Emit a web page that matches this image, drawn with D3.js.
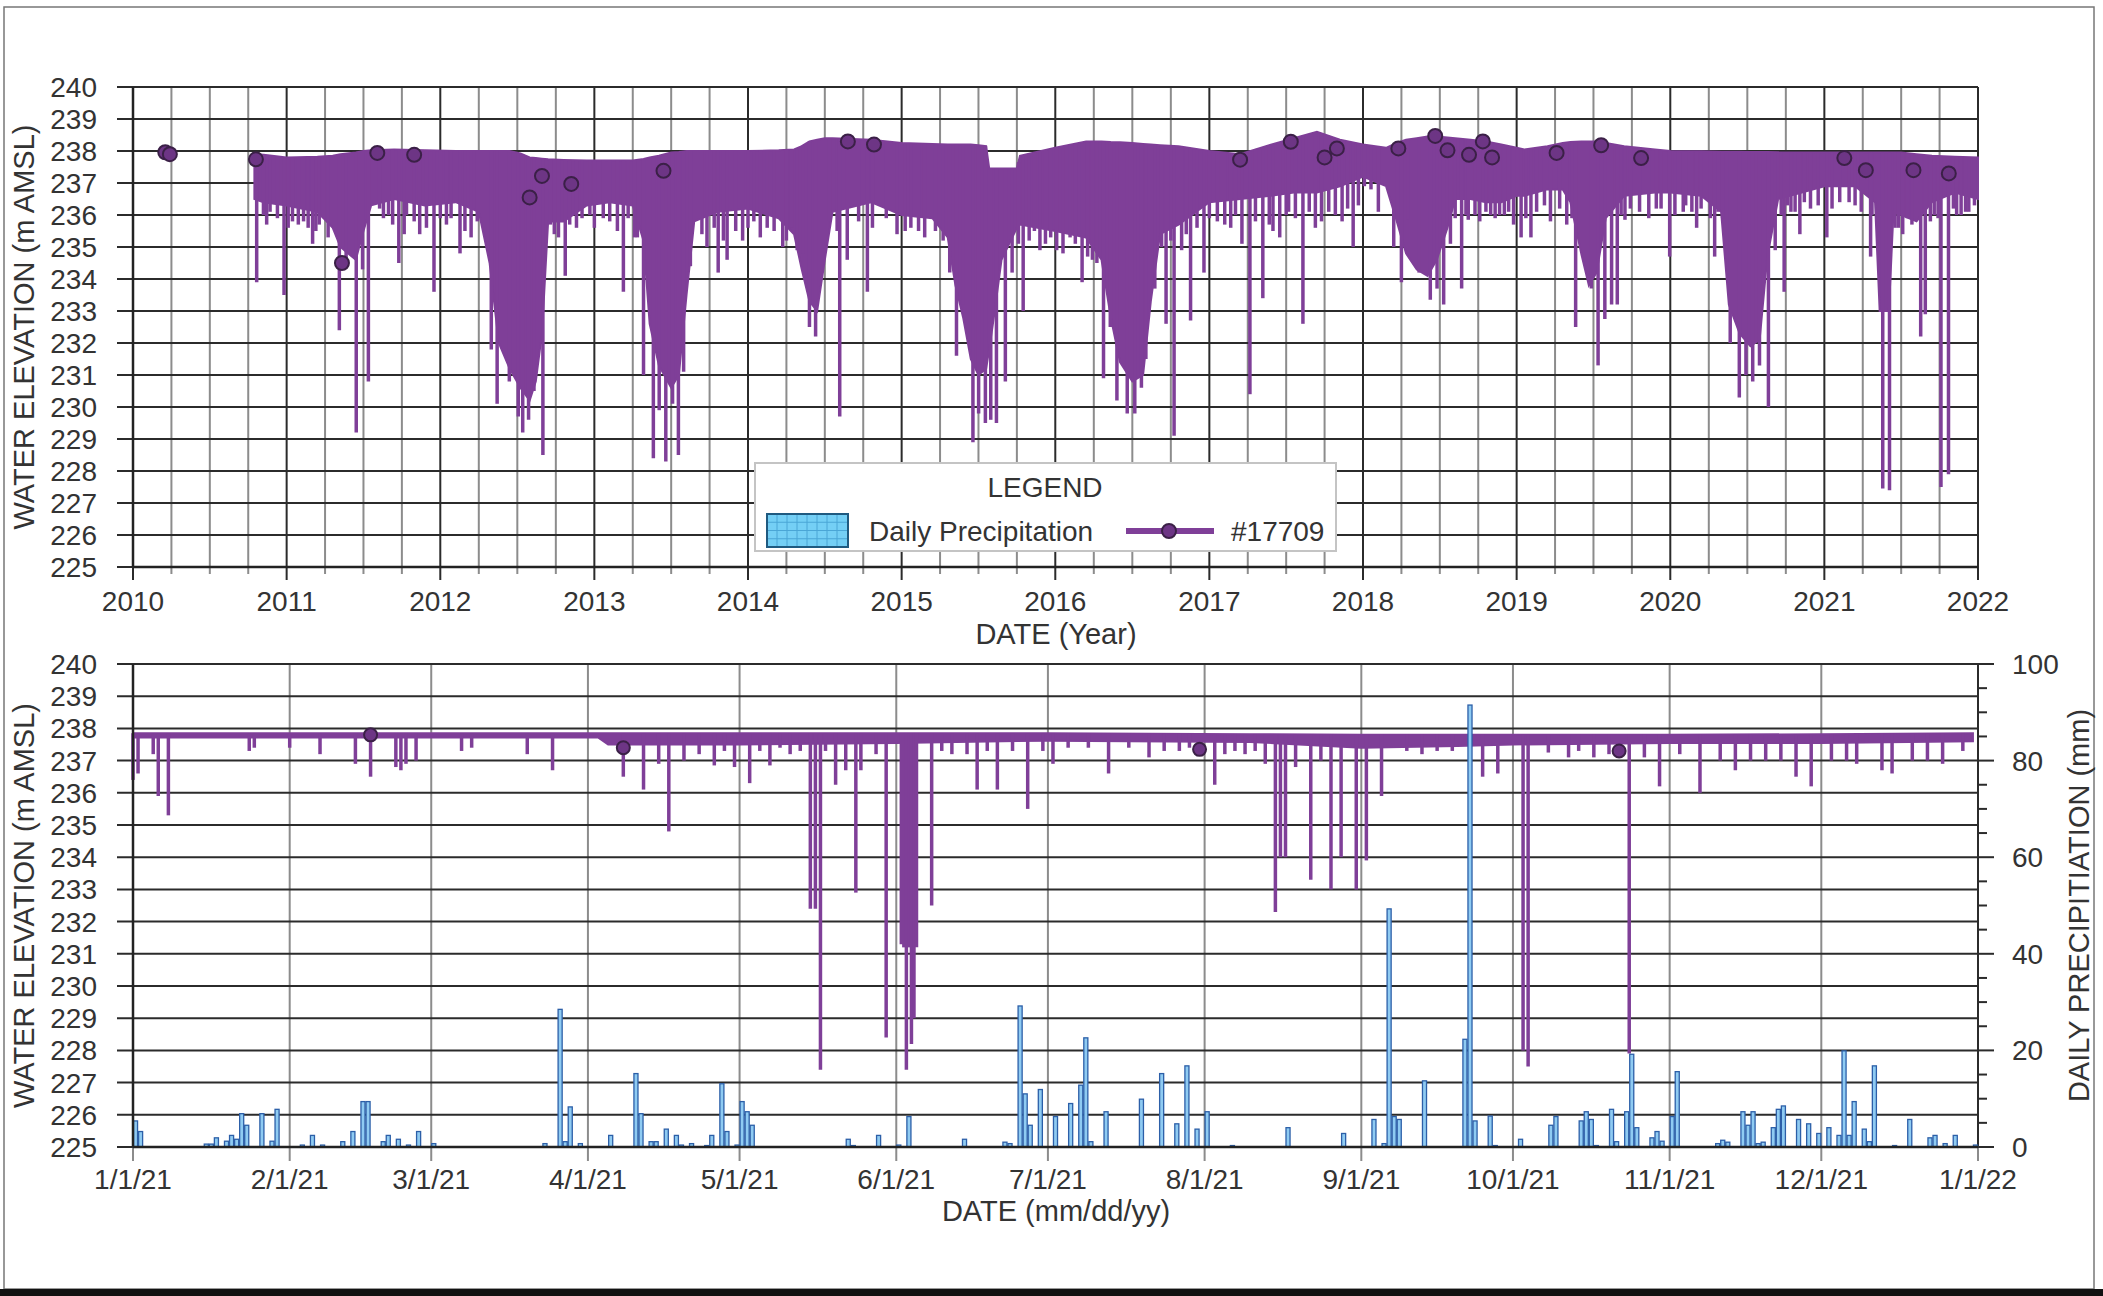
<!DOCTYPE html>
<html>
<head>
<meta charset="utf-8">
<script src="https://cdn.jsdelivr.net/npm/d3@7"></script>
<style>
  body { margin: 0; background: #fff; }
  svg { display: block; font-family: "Liberation Sans", Arial, sans-serif; }
  .lbl { fill: #333; font-size: 28px; }
  .ttl { fill: #333; font-size: 29px; }
</style>
</head>
<body>
<svg id="chart" width="2103" height="1296"></svg>
<script>
// ---------- long-term record (decimal years) ----------
const bandYears  = [2010.79,2010.85,2011.0,2011.2,2011.3,2011.35,2011.45,2011.5,2011.55,2011.7,2011.9,2012.1,2012.25,2012.32,2012.38,2012.45,2012.52,2012.58,2012.62,2012.66,2012.7,2012.8,2012.95,2013.1,2013.25,2013.32,2013.36,2013.42,2013.5,2013.55,2013.6,2013.65,2013.8,2014.0,2014.2,2014.3,2014.35,2014.4,2014.45,2014.5,2014.55,2014.8,2015.0,2015.2,2015.3,2015.35,2015.4,2015.45,2015.5,2015.55,2015.57,2015.6,2015.65,2015.75,2015.77,2016.0,2016.2,2016.3,2016.36,2016.42,2016.5,2016.57,2016.62,2016.68,2016.8,2017.0,2017.2,2017.4,2017.55,2017.7,2017.85,2018.0,2018.15,2018.22,2018.28,2018.35,2018.42,2018.48,2018.55,2018.6,2018.7,2018.8,2018.9,2019.0,2019.05,2019.2,2019.3,2019.35,2019.42,2019.47,2019.52,2019.58,2019.7,2019.9,2020.0,2020.2,2020.33,2020.38,2020.45,2020.52,2020.58,2020.63,2020.7,2021.0,2021.2,2021.33,2021.36,2021.42,2021.45,2021.5,2021.6,2021.7,2021.85,2022.0];
const bandTop    = [237.9,237.88,237.8,237.82,237.85,237.9,237.95,238.0,238.02,238.05,238.02,238.0,238.0,238.0,238.0,238.0,237.92,237.8,237.78,237.76,237.74,237.72,237.7,237.7,237.7,237.75,237.8,237.85,237.95,237.97,238.0,238.0,238.0,238.0,238.02,238.05,238.15,238.3,238.35,238.4,238.4,238.35,238.25,238.22,238.2,238.2,238.2,238.2,238.18,238.15,237.45,237.45,237.45,237.45,237.85,238.1,238.3,238.3,238.28,238.27,238.25,238.22,238.2,238.18,238.15,238.0,237.9,238.2,238.4,238.6,238.35,238.2,238.1,238.25,238.35,238.4,238.45,238.45,238.42,238.4,238.35,238.3,238.2,238.1,238.05,238.15,238.25,238.28,238.3,238.3,238.3,238.25,238.15,238.05,238.0,237.99,237.98,237.98,237.98,237.97,237.97,237.97,237.96,237.95,237.95,237.95,237.95,237.95,237.95,237.95,237.9,237.85,237.82,237.8];
const bandBottom = [236.5,236.4,236.3,236.1,235.6,235.0,234.6,235.5,236.3,236.5,236.3,236.4,236.1,234.5,232.0,231.2,230.6,230.2,230.8,232.3,235.8,235.8,236.3,236.4,236.3,235.2,232.6,231.3,230.6,231.0,233.5,235.8,236.1,236.2,235.9,235.4,234.3,233.3,233.0,234.6,236.1,236.4,236.0,235.9,235.3,233.8,232.8,231.5,231.0,231.2,231.8,232.8,234.6,235.6,235.7,235.5,235.3,234.6,232.8,231.4,230.8,231.0,233.3,235.4,235.7,236.4,236.5,236.6,236.7,236.7,236.9,237.2,236.9,235.8,234.8,234.3,234.1,234.6,235.6,236.5,236.5,236.4,236.4,236.6,236.6,236.8,236.8,236.4,234.8,233.8,234.2,235.9,236.6,236.7,236.7,236.6,236.1,233.2,232.3,231.9,232.1,234.7,236.5,236.9,236.9,236.4,233.0,233.0,236.1,236.0,235.8,236.4,236.7,236.5];

const spikeYears = [2010.805,2010.849,2010.892,2010.983,2011.038,2011.076,2011.14,2011.169,2011.212,2011.27,2011.343,2011.387,2011.453,2011.494,2011.532,2011.605,2011.663,2011.73,2011.765,2011.866,2011.959,2012.07,2012.128,2012.2,2012.331,2012.369,2012.448,2012.506,2012.535,2012.573,2012.608,2012.666,2012.715,2012.767,2012.811,2012.884,2012.971,2013.058,2013.189,2013.262,2013.32,2013.384,2013.422,2013.465,2013.509,2013.547,2013.581,2013.625,2013.733,2013.806,2013.864,2013.965,2014.038,2014.125,2014.226,2014.284,2014.357,2014.4,2014.44,2014.53,2014.597,2014.646,2014.777,2015.023,2015.11,2015.27,2015.313,2015.357,2015.4,2015.464,2015.501,2015.545,2015.58,2015.617,2015.675,2015.719,2015.791,2015.864,2015.936,2016.009,2016.096,2016.174,2016.241,2016.313,2016.357,2016.4,2016.467,2016.516,2016.559,2016.588,2016.646,2016.719,2016.771,2016.82,2016.878,2016.965,2017.052,2017.139,2017.212,2017.264,2017.348,2017.414,2017.458,2017.516,2017.609,2017.69,2017.777,2017.864,2017.936,2018.009,2018.052,2018.2,2018.25,2018.292,2018.365,2018.438,2018.482,2018.525,2018.569,2018.642,2018.685,2018.729,2018.831,2018.889,2018.948,2019.029,2019.093,2019.181,2019.326,2019.384,2019.486,2019.53,2019.574,2019.618,2019.655,2019.705,2019.909,2019.996,2020.084,2020.171,2020.288,2020.34,2020.389,2020.448,2020.491,2020.535,2020.579,2020.637,2020.681,2020.739,2020.783,2020.841,2021.016,2021.161,2021.301,2021.38,2021.424,2021.482,2021.54,2021.627,2021.657,2021.715,2021.759,2021.808,2021.861,2021.919,2021.977];
const spikeLows  = [233.9,236.0,236.1,233.5,235.8,235.7,235.6,235.1,235.7,235.3,232.4,234.4,229.2,234.3,230.8,236.2,236.0,234.5,235.4,235.4,233.6,235.9,234.8,235.3,231.8,230.1,230.8,229.7,229.2,229.6,230.5,228.5,235.7,235.3,234.1,235.6,236.0,235.9,233.6,235.3,231.0,228.4,229.9,228.3,230.1,228.5,231.1,234.4,235.0,234.2,234.6,235.2,235.8,235.6,235.0,235.6,234.8,232.5,232.2,235.8,229.7,234.6,233.6,235.5,235.5,235.2,234.2,231.6,233.2,228.9,229.8,229.5,229.6,229.5,230.8,234.2,233.0,235.5,235.1,234.9,235.3,233.9,234.6,230.9,232.5,230.2,229.8,229.8,230.6,231.5,233.7,232.6,229.1,234.9,232.7,234.2,235.8,235.6,235.1,230.4,233.4,235.5,235.3,236.1,232.6,235.6,236.1,235.8,235.0,236.9,236.8,235.0,233.9,235.85,234.2,233.35,233.7,233.2,235.1,233.7,235.85,236.0,236.0,236.0,236.1,235.3,235.3,236.3,235.7,232.5,233.7,231.3,232.75,233.2,233.2,235.85,236.2,234.7,236.1,235.6,234.7,235.9,232.0,230.3,231.0,230.8,231.3,230.0,234.9,233.6,236.1,235.4,235.3,236.4,234.7,227.45,227.4,235.6,235.9,232.2,232.9,236.0,227.5,227.9,236.0,236.1,236.3];

// shorter drawdowns that make the ragged lower edge of the band
const teethYears = [2010.87,2010.94,2011.01,2011.11,2011.19,2011.24,2011.63,2011.69,2011.78,2011.83,2011.91,2012.0,2012.04,2012.16,2012.24,2012.74,2012.84,2012.92,2013.0,2013.1,2013.15,2013.22,2013.28,2013.7,2013.78,2013.84,2013.92,2014.0,2014.08,2014.17,2014.25,2014.32,2014.58,2014.72,2014.81,2014.9,2014.97,2015.06,2015.15,2015.22,2015.76,2015.83,2015.9,2015.97,2016.05,2016.13,2016.21,2016.27,2016.69,2016.75,2016.85,2016.92,2017.0,2017.1,2017.17,2017.3,2017.39,2017.5,2017.56,2017.65,2017.73,2017.82,2017.9,2017.97,2018.1,2018.6,2018.67,2018.76,2018.8,2018.86,2018.92,2018.98,2019.06,2019.13,2019.22,2019.28,2019.36,2019.68,2019.74,2019.8,2019.86,2019.94,2020.03,2020.1,2020.14,2020.2,2020.26,2020.31,2020.72,2020.76,2020.81,2020.87,2020.91,2020.96,2021.05,2021.1,2021.2,2021.24,2021.31,2021.46,2021.51,2021.57,2021.69,2021.74,2021.84,2021.89,2021.94];
const teethLows  = [235.7,235.9,235.6,235.8,235.5,235.9,235.9,235.7,236.0,235.8,235.6,235.9,235.7,235.5,235.8,235.4,235.7,235.9,235.6,235.8,235.5,235.9,235.3,235.4,235.6,235.2,235.5,235.6,235.3,235.5,235.2,234.9,235.5,235.8,235.6,235.9,235.4,235.6,235.3,235.5,235.1,235.2,234.9,235.3,234.8,235.1,234.7,234.5,235.0,235.2,235.4,235.6,235.9,235.7,236.0,235.8,235.7,236.0,235.9,236.1,235.8,236.0,236.2,236.3,236.1,235.9,236.0,235.8,236.1,235.9,236.0,235.7,235.9,236.1,235.8,236.2,235.9,236.0,236.2,236.1,235.9,236.2,236.0,236.3,236.1,236.2,235.9,236.1,236.0,236.3,236.1,236.4,236.2,236.3,236.2,236.4,236.3,236.1,236.0,235.6,235.4,235.7,235.8,235.9,236.2,236.0,236.1];

const manualYears  = [2010.21,2010.24,2010.80,2011.36,2011.59,2011.83,2012.58,2012.66,2012.85,2013.45,2014.65,2014.82,2017.2,2017.53,2017.75,2017.83,2018.23,2018.47,2018.55,2018.69,2018.78,2018.84,2019.26,2019.55,2019.81,2021.13,2021.27,2021.58,2021.81];
const manualLevels = [237.96,237.9,237.74,234.5,237.94,237.88,236.55,237.22,236.97,237.38,238.3,238.2,237.73,238.29,237.8,238.08,238.08,238.47,238.02,237.88,238.3,237.8,237.94,238.18,237.78,237.78,237.4,237.4,237.3];

const yearTicks = d3.range(2010, 2023);

// ---------- 2021 record ----------
const dayBandDates  = ["2021-01-01","2021-04-03","2021-04-05","2021-05-01","2021-06-01","2021-07-01","2021-08-10","2021-09-01","2021-09-20","2021-10-01","2021-11-01","2021-12-01","2021-12-31"];
const dayBandTop    = [237.85,237.85,237.85,237.85,237.85,237.85,237.82,237.8,237.8,237.8,237.8,237.82,237.85];
const dayBandBottom = [237.72,237.72,237.5,237.5,237.55,237.62,237.58,237.4,237.45,237.5,237.55,237.55,237.6];

const daySpikeDates = ["2021-01-01","2021-01-02","2021-01-05","2021-01-06","2021-01-08","2021-01-24","2021-01-25","2021-02-01","2021-02-07","2021-02-14","2021-02-17","2021-02-22","2021-02-23","2021-02-24","2021-02-26","2021-03-07","2021-03-09","2021-03-20","2021-03-25","2021-04-08","2021-04-12","2021-04-15","2021-04-17","2021-04-20","2021-04-23","2021-04-26","2021-04-28","2021-04-30","2021-05-03","2021-05-05","2021-05-07","2021-05-09","2021-05-11","2021-05-13","2021-05-15","2021-05-16","2021-05-17","2021-05-18","2021-05-20","2021-05-22","2021-05-24","2021-05-25","2021-05-28","2021-05-30","2021-06-02","2021-06-02T12","2021-06-03","2021-06-03T12","2021-06-04","2021-06-04T12","2021-06-05","2021-06-08","2021-06-10","2021-06-12","2021-06-15","2021-06-17","2021-06-19","2021-06-21","2021-06-24","2021-06-27","2021-06-30","2021-07-02","2021-07-05","2021-07-09","2021-07-13","2021-07-17","2021-07-21","2021-07-24","2021-07-27","2021-07-29","2021-08-03","2021-08-05","2021-08-07","2021-08-09","2021-08-11","2021-08-13","2021-08-15","2021-08-16","2021-08-17","2021-08-19","2021-08-22","2021-08-24","2021-08-26","2021-08-28","2021-08-31","2021-09-02","2021-09-05","2021-09-10","2021-09-13","2021-09-16","2021-09-19","2021-09-25","2021-09-28","2021-10-03","2021-10-04","2021-10-08","2021-10-12","2021-10-14","2021-10-17","2021-10-20","2021-10-24","2021-10-27","2021-10-30","2021-11-03","2021-11-07","2021-11-11","2021-11-14","2021-11-17","2021-11-20","2021-11-23","2021-11-26","2021-11-29","2021-12-03","2021-12-06","2021-12-08","2021-12-13","2021-12-15","2021-12-19","2021-12-22","2021-12-25","2021-12-29"];
const daySpikeLows  = [236.4,236.6,237.2,235.9,235.3,237.3,237.4,237.4,237.2,236.9,236.5,236.8,236.7,236.9,237.0,237.3,237.4,237.2,236.7,236.5,236.1,236.9,234.8,237.0,237.2,236.85,237.3,236.8,236.3,237.3,236.85,237.4,237.2,237.3,232.4,232.4,227.4,237.3,236.25,236.7,232.9,236.7,237.2,228.4,231.3,231.2,227.4,231.2,228.2,229.0,231.2,232.5,237.3,237.2,237.2,236.1,237.3,236.1,237.3,235.5,237.3,236.9,237.4,237.4,236.6,237.4,237.1,237.3,237.3,237.4,236.25,237.2,237.3,237.2,237.3,236.9,232.3,234.0,234.0,236.8,233.3,237.0,233.0,234.0,233.0,233.9,235.9,237.3,237.2,237.3,237.3,236.5,236.6,228.0,227.5,237.25,237.1,237.3,237.1,237.2,227.9,237.1,236.2,237.2,236.0,237.0,236.7,237.0,237.0,237.0,236.5,236.2,237.0,237.0,236.9,236.7,236.6,237.0,237.0,236.9,237.3];

const dayManualDates  = ["2021-02-17","2021-04-08","2021-07-31","2021-10-22"];
const dayManualLevels = [237.8,237.4,237.35,237.3];

const precipDates = ["01-01","01-02","01-15","01-16","01-17","01-19","01-20","01-21","01-22","01-23","01-26","01-28","01-29","02-03","02-05","02-07","02-11","02-13","02-15","02-16","02-19","02-20","02-22","02-24","02-26","03-01","03-23","03-26","03-27","03-28","03-30","04-05","04-10","04-11","04-13","04-14","04-16","04-18","04-19","04-21","04-24","04-25","04-27","04-28","04-30","05-01","05-02","05-03","05-22","05-23","05-28","06-01","06-03","06-14","06-22","06-23","06-25","06-26","06-27","06-29","07-02","07-05","07-07","07-08","07-09","07-12","07-19","07-23","07-26","07-28","07-30","08-01","08-06","08-17","08-28","09-03","09-05","09-06","09-07","09-08","09-13","09-21","09-22","09-23","09-26","09-27","10-02","10-08","10-09","10-14","10-15","10-16","10-17","10-20","10-21","10-23","10-24","10-25","10-28","10-29","10-30","11-01","11-02","11-10","11-11","11-12","11-15","11-16","11-17","11-18","11-19","11-21","11-22","11-23","11-26","11-28","11-30","12-02","12-04","12-05","12-06","12-07","12-09","12-10","12-11","12-15","12-18","12-22","12-23","12-25","12-27","12-31"];
const precipMm    = [5.4,3.2,0.6,0.6,1.9,1.2,2.4,1.6,6.9,4.5,6.9,1.2,7.8,0.4,2.4,0.4,1.1,3.2,9.4,9.4,1.1,2.4,1.6,0.4,3.2,0.7,0.7,28.5,1.1,8.3,0.7,2.4,15.2,6.9,1.1,1.1,3.7,2.4,0.4,0.7,0.3,2.4,13.1,3.2,0.4,9.4,7.3,4.5,1.6,0.3,2.4,0.4,6.3,1.6,1.0,0.7,29.2,11.0,4.5,11.9,6.3,9.0,12.8,22.6,1.1,7.3,9.9,15.2,4.8,16.8,3.7,7.3,0.3,4.0,2.8,5.7,0.7,49.3,6.3,5.7,13.7,22.3,91.5,5.4,6.4,0.3,1.6,4.5,6.3,5.4,7.3,5.7,0.3,7.8,1.1,7.3,19.2,4.0,1.9,3.2,1.2,6.3,15.6,0.7,1.4,1.0,7.3,4.5,7.3,0.7,1.0,4.0,7.8,8.5,5.7,4.8,2.8,4.0,2.4,19.9,2.4,9.4,3.7,1.1,16.8,0.3,5.7,1.9,2.4,0.7,2.4,0.4];

const elevTicks = d3.range(225, 241);
const precipTicks = d3.range(0, 101, 20);

// ---------- setup ----------
const PURPLE = "#7f3f98";
const svg = d3.select("#chart");
const L = 133, R = 1978;
const top1 = { t: 87, b: 567 }, top2 = { t: 664, b: 1147 };
const yr = v => { const y = Math.floor(v), s = new Date(y, 0, 1), e = new Date(y + 1, 0, 1); return new Date(+s + (v - y) * (e - s)); };
const parse = s => new Date(s.length > 10 ? s + ":00" : s + "T00:00");

// frame
svg.append("rect").attr("x", 4).attr("y", 7).attr("width", 2090).attr("height", 1282)
  .attr("fill", "none").attr("stroke", "#777").attr("stroke-width", 1.5);
svg.append("rect").attr("x", 0).attr("y", 1289).attr("width", 2103).attr("height", 7).attr("fill", "#111");

function elevAxis(g, y) {
  g.selectAll(".hg").data(elevTicks).join("line")
    .attr("x1", L - 16).attr("x2", R).attr("y1", d => y(d)).attr("y2", d => y(d))
    .attr("stroke", "#2b2b2b").attr("stroke-width", 2);
  g.selectAll(".yl").data(elevTicks).join("text").attr("class", "lbl")
    .attr("x", 97).attr("y", d => y(d) + 10).attr("text-anchor", "end").text(d => d);
}

// draw drawdown spikes hanging from the upper envelope
function spikes(g, x, y, topAt, dates, lows) {
  g.append("g").selectAll("line").data(dates).join("line")
    .attr("x1", d => x(d)).attr("x2", d => x(d))
    .attr("y1", d => y(topAt(+d))).attr("y2", (d, i) => y(lows[i]))
    .attr("stroke", PURPLE).attr("stroke-width", 3.5);
}

// ---------- top chart ----------
const x1 = d3.scaleTime().domain([yr(2010), yr(2022)]).range([L, R]);
const y1 = d3.scaleLinear().domain([225, 240]).range([top1.b, top1.t]);
const g1 = svg.append("g");

const quarters = d3.range(2010, 2022.01, 0.25).filter(v => v % 1 !== 0);
g1.selectAll(".qg").data(quarters).join("line")
  .attr("x1", d => x1(yr(d))).attr("x2", d => x1(yr(d)))
  .attr("y1", top1.t).attr("y2", top1.b + 7)
  .attr("stroke", "#8c8c8c").attr("stroke-width", 2);
g1.selectAll(".yg").data(yearTicks).join("line")
  .attr("x1", d => x1(yr(d))).attr("x2", d => x1(yr(d)))
  .attr("y1", top1.t).attr("y2", top1.b + 13)
  .attr("stroke", "#2b2b2b").attr("stroke-width", 2);
elevAxis(g1, y1);
g1.selectAll(".xl").data(yearTicks).join("text").attr("class", "lbl")
  .attr("x", d => x1(yr(d))).attr("y", 611).attr("text-anchor", "middle").text(d => d);
g1.append("text").attr("class", "ttl").attr("x", 1056).attr("y", 644).attr("text-anchor", "middle").text("DATE (Year)");

const band1 = bandYears.map((v, i) => ({ d: yr(v), t: bandTop[i], b: bandBottom[i] }));
const area = (x, y) => d3.area().x(d => x(d.d)).y0(d => y(d.b)).y1(d => y(d.t));
g1.append("path").datum(band1).attr("d", area(x1, y1))
  .attr("fill", PURPLE).attr("stroke", PURPLE).attr("stroke-width", 2);
const topAt1 = d3.scaleLinear().domain(band1.map(d => +d.d)).range(bandTop).clamp(true);
spikes(g1, x1, y1, topAt1, teethYears.map(yr), teethLows);
spikes(g1, x1, y1, topAt1, spikeYears.map(yr), spikeLows);
g1.selectAll(".mk").data(manualYears).join("circle")
  .attr("cx", d => x1(yr(d))).attr("cy", (d, i) => y1(manualLevels[i])).attr("r", 7)
  .attr("fill", "#6d3585").attr("stroke", "#3b2047").attr("stroke-width", 2);

// legend
const lg = svg.append("g");
lg.append("rect").attr("x", 755).attr("y", 463).attr("width", 581).attr("height", 88)
  .attr("fill", "#fff").attr("stroke", "#c4c4c4").attr("stroke-width", 2);
lg.append("text").attr("class", "lbl").attr("x", 1045).attr("y", 497).attr("text-anchor", "middle").text("LEGEND");
lg.append("rect").attr("x", 767).attr("y", 514).attr("width", 81).attr("height", 33).attr("fill", "#74cff5");
lg.selectAll(".pv").data(d3.range(1, 8)).join("line")
  .attr("x1", d => 767 + d * 10).attr("x2", d => 767 + d * 10).attr("y1", 514).attr("y2", 547)
  .attr("stroke", "#4aa6d6").attr("stroke-width", 1);
lg.selectAll(".ph").data(d3.range(1, 4)).join("line")
  .attr("x1", 767).attr("x2", 848).attr("y1", d => 514 + d * 8.25).attr("y2", d => 514 + d * 8.25)
  .attr("stroke", "#4aa6d6").attr("stroke-width", 1);
lg.append("rect").attr("x", 767).attr("y", 514).attr("width", 81).attr("height", 33)
  .attr("fill", "none").attr("stroke", "#1f5a80").attr("stroke-width", 2);
lg.append("text").attr("class", "lbl").attr("x", 869).attr("y", 541).text("Daily Precipitation");
lg.append("line").attr("x1", 1126).attr("x2", 1214).attr("y1", 531).attr("y2", 531)
  .attr("stroke", PURPLE).attr("stroke-width", 6);
lg.append("circle").attr("cx", 1169).attr("cy", 531).attr("r", 7)
  .attr("fill", "#6d3585").attr("stroke", "#3b2047").attr("stroke-width", 2);
lg.append("text").attr("class", "lbl").attr("x", 1231).attr("y", 541).text("#17709");

// ---------- bottom chart ----------
const x2 = d3.scaleTime().domain([new Date(2021, 0, 1), new Date(2022, 0, 1)]).range([L, R]);
const y2 = d3.scaleLinear().domain([225, 240]).range([top2.b, top2.t]);
const yp = d3.scaleLinear().domain([0, 100]).range([top2.b, top2.t]);
const g2 = svg.append("g");
const months = x2.ticks(d3.timeMonth.every(1));
g2.selectAll(".mg").data(months).join("line")
  .attr("x1", d => x2(d)).attr("x2", d => x2(d)).attr("y1", top2.t).attr("y2", top2.b + 14)
  .attr("stroke", "#8c8c8c").attr("stroke-width", 2);
elevAxis(g2, y2);
g2.selectAll(".xl").data(months).join("text").attr("class", "lbl")
  .attr("x", d => x2(d)).attr("y", 1189).attr("text-anchor", "middle").text(d3.timeFormat("%-m/%-d/%y"));
g2.append("text").attr("class", "ttl").attr("x", 1056).attr("y", 1221).attr("text-anchor", "middle").text("DATE (mm/dd/yy)");

// right axis
g2.append("line").attr("x1", R).attr("x2", R).attr("y1", top2.t).attr("y2", top2.b).attr("stroke", "#2b2b2b").attr("stroke-width", 2);
g2.selectAll(".rm").data(d3.range(0, 101, 5)).join("line")
  .attr("x1", R).attr("x2", d => R + (d % 20 === 0 ? 16 : 9)).attr("y1", d => yp(d)).attr("y2", d => yp(d))
  .attr("stroke", "#2b2b2b").attr("stroke-width", 2);
g2.selectAll(".rl").data(precipTicks).join("text").attr("class", "lbl")
  .attr("x", 2012).attr("y", d => yp(d) + 10).text(d => d);

const band2 = dayBandDates.map((s, i) => ({ d: parse(s), t: dayBandTop[i], b: dayBandBottom[i] }));
g2.append("path").datum(band2).attr("d", area(x2, y2))
  .attr("fill", PURPLE).attr("stroke", PURPLE).attr("stroke-width", 2);
const topAt2 = d3.scaleLinear().domain(band2.map(d => +d.d)).range(dayBandTop).clamp(true);
spikes(g2, x2, y2, topAt2, daySpikeDates.map(parse), daySpikeLows);
g2.selectAll(".mk").data(dayManualDates).join("circle")
  .attr("cx", d => x2(parse(d))).attr("cy", (d, i) => y2(dayManualLevels[i])).attr("r", 6.5)
  .attr("fill", "#6d3585").attr("stroke", "#3b2047").attr("stroke-width", 2);

g2.selectAll(".bar").data(precipDates).join("rect")
  .attr("x", d => x2(parse("2021-" + d)) + 0.5)
  .attr("width", d => x2(d3.timeDay.offset(parse("2021-" + d), 1)) - x2(parse("2021-" + d)) - 1)
  .attr("y", (d, i) => yp(precipMm[i])).attr("height", (d, i) => yp(0) - yp(precipMm[i]))
  .attr("fill", "#8fcbf2").attr("stroke", "#2c5fa8").attr("stroke-width", 1.3);

// axis lines on top
[[g1, top1], [g2, top2]].forEach(([g, p]) => {
  g.append("line").attr("x1", L).attr("x2", L).attr("y1", p.t).attr("y2", p.b).attr("stroke", "#222").attr("stroke-width", 2.5);
  g.append("line").attr("x1", L).attr("x2", R).attr("y1", p.b).attr("y2", p.b).attr("stroke", "#222").attr("stroke-width", 2.5);
});

// axis titles
svg.append("text").attr("class", "ttl").attr("transform", `translate(34,${(top1.t + top1.b) / 2}) rotate(-90)`)
  .attr("text-anchor", "middle").text("WATER ELEVATION (m AMSL)");
svg.append("text").attr("class", "ttl").attr("transform", `translate(34,${(top2.t + top2.b) / 2}) rotate(-90)`)
  .attr("text-anchor", "middle").text("WATER ELEVATION (m AMSL)");
svg.append("text").attr("class", "ttl").attr("transform", `translate(2089,${(top2.t + top2.b) / 2}) rotate(-90)`)
  .attr("text-anchor", "middle").text("DAILY PRECIPITIATION (mm)");
</script>
</body>
</html>
